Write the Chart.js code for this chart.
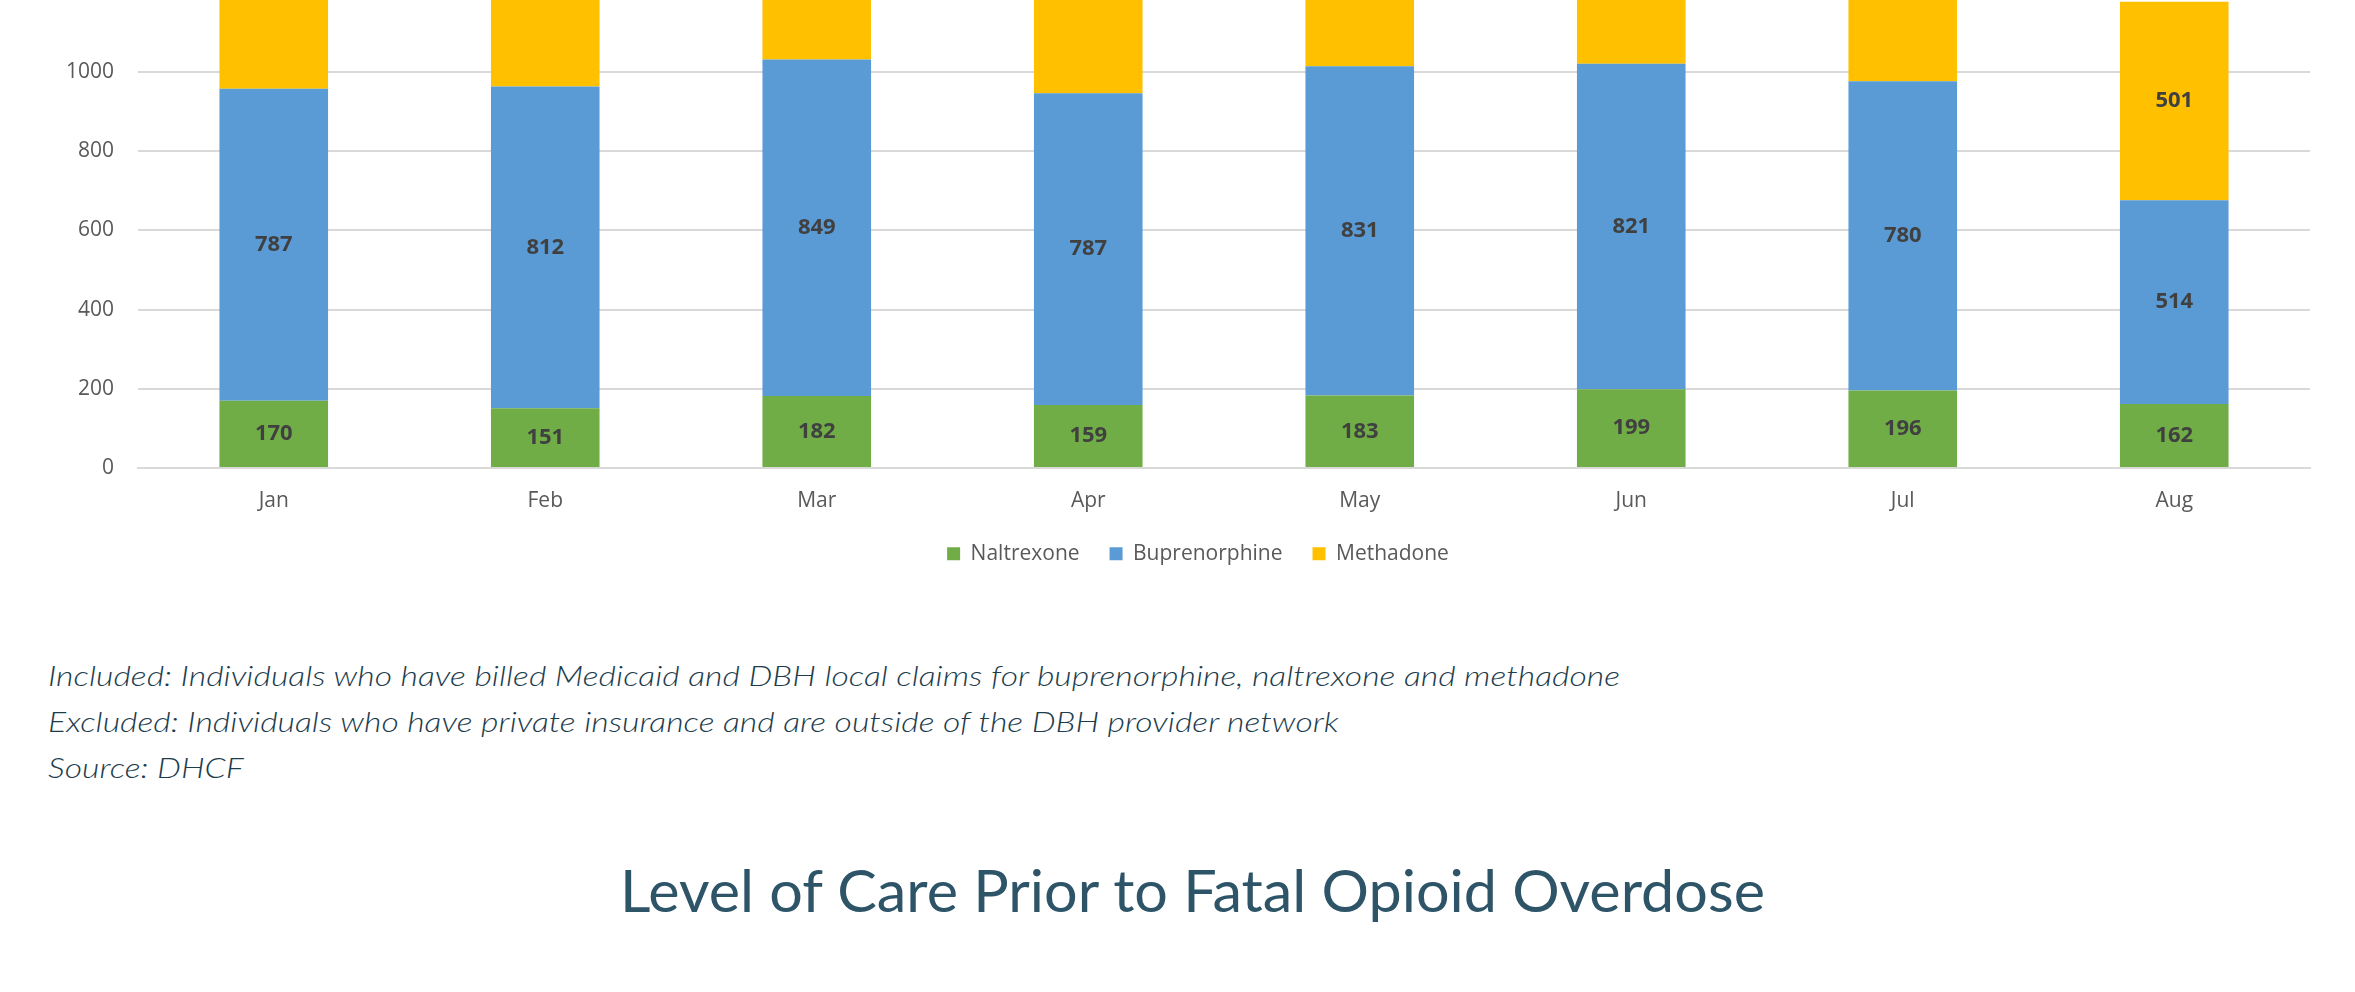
<!DOCTYPE html>
<html>
<head>
<meta charset="utf-8">
<script src="https://cdn.jsdelivr.net/npm/chart.js@4.4.1/dist/chart.umd.min.js"></script>
<style>
  html, body { margin: 0; padding: 0; background: #ffffff; width: 2355px; height: 992px; overflow: hidden; }
  #plot { position: absolute; left: 0; top: -220px; }
  .note {
    position: absolute; left: 48px; margin: 0;
    font-family: Lato, "Open Sans", sans-serif; font-style: italic; font-weight: 300;
    font-size: 28px; line-height: 34px; color: #1d3d4d; white-space: nowrap;
    transform-origin: 0 0;
  }
  #heading {
    position: absolute; left: 620px; top: 855px; margin: 0;
    font-family: Lato, "Open Sans", sans-serif; font-weight: 400;
    font-size: 58px; line-height: 70px; color: #2e5468; white-space: nowrap;
    transform-origin: 0 0;
  }
</style>
</head>
<body>
<canvas id="plot" width="2355" height="800"></canvas>
<div class="note" id="n1" style="top:658px"><span>Included: Individuals who have billed Medicaid and DBH local claims for buprenorphine, naltrexone and methadone</span></div>
<div class="note" id="n2" style="top:704px"><span>Excluded: Individuals who have private insurance and are outside of the DBH provider network</span></div>
<div class="note" id="n3" style="top:750px"><span>Source: DHCF</span></div>
<div id="heading"><span>Level of Care Prior to Fatal Opioid Overdose</span></div>
<script>
// Monthly counts of individuals by medication
const months = ['Jan', 'Feb', 'Mar', 'Apr', 'May', 'Jun', 'Jul', 'Aug'];
const naltrexone = [170, 151, 182, 159, 183, 199, 196, 162];
const buprenorphine = [787, 812, 849, 787, 831, 821, 780, 514];
const methadone = [545, 538, 512, 556, 529, 517, 548, 501];

// Value axis
const yMin = 0;
const yMax = 1600;
const yStep = 200;

const tickFont = { family: '"Open Sans", sans-serif', size: 21 };
const tickColor = '#595959';
const gridColor = '#d9d9d9';

// Writes each segment's value in the middle of its bar segment
const segmentLabels = {
  id: 'segmentLabels',
  afterDatasetsDraw(chart) {
    const { ctx, chartArea } = chart;
    ctx.save();
    ctx.font = 'bold 22px "Open Sans", sans-serif';
    ctx.fillStyle = '#404040';
    ctx.textAlign = 'center';
    ctx.textBaseline = 'middle';
    chart.data.datasets.forEach((ds, i) => {
      const meta = chart.getDatasetMeta(i);
      meta.data.forEach((bar, j) => {
        const { x, y, base } = bar.getProps(['x', 'y', 'base'], true);
        const cy = (y + base) / 2;
        if (cy < chartArea.top) return;
        ctx.fillText(String(ds.data[j]), x, cy);
      });
    });
    ctx.restore();
  }
};

// Moves the legend row a little to the right of the canvas centre
const legendNudge = {
  id: 'legendNudge',
  afterLayout(chart) {
    if (!chart.legend) return;
    chart.legend.left += 13;
    chart.legend.right += 13;
  }
};

const barStyle = { categoryPercentage: 1.0, barPercentage: 0.4, borderWidth: 0 };

new Chart(document.getElementById('plot'), {
  type: 'bar',
  data: {
    labels: months,
    datasets: [
      { label: 'Naltrexone', data: naltrexone, backgroundColor: '#70ad47', ...barStyle },
      { label: 'Buprenorphine', data: buprenorphine, backgroundColor: '#5b9bd5', ...barStyle },
      { label: 'Methadone', data: methadone, backgroundColor: '#ffc000', ...barStyle }
    ]
  },
  options: {
    responsive: false,
    animation: false,
    events: [],
    layout: { padding: { top: 54, left: 60, right: 45, bottom: 5.7 } },
    plugins: {
      legend: {
        position: 'bottom',
        labels: {
          boxWidth: 13, boxHeight: 13, padding: 30,
          color: tickColor, font: tickFont
        }
      },
      tooltip: { enabled: false }
    },
    scales: {
      x: {
        stacked: true,
        grid: { display: false, drawTicks: false },
        border: { color: gridColor, width: 2 },
        ticks: { padding: 20, color: tickColor, font: tickFont },
        afterFit(scale) { scale.height = 45.2; }
      },
      y: {
        stacked: true,
        min: yMin, max: yMax,
        grid: { color: gridColor, lineWidth: 2, drawTicks: false },
        border: { display: false },
        ticks: {
          stepSize: yStep, padding: 24, color: tickColor, font: tickFont,
          callback: (v) => String(v)
        },
        afterFit(scale) { scale.width = 78; }
      }
    }
  },
  plugins: [segmentLabels, legendNudge]
});

// Stretch the text blocks to their intended widths
function fitWidth(el, target) {
  const w = el.firstElementChild.getBoundingClientRect().width;
  if (w > 0) el.style.transform = 'scaleX(' + (target / w) + ')';
  return target / w;
}
const noteScale = fitWidth(document.getElementById('n1'), 1572);
document.getElementById('n2').style.transform = 'scaleX(' + noteScale + ')';
document.getElementById('n3').style.transform = 'scaleX(' + noteScale + ')';
fitWidth(document.getElementById('heading'), 1145);
</script>
</body>
</html>
